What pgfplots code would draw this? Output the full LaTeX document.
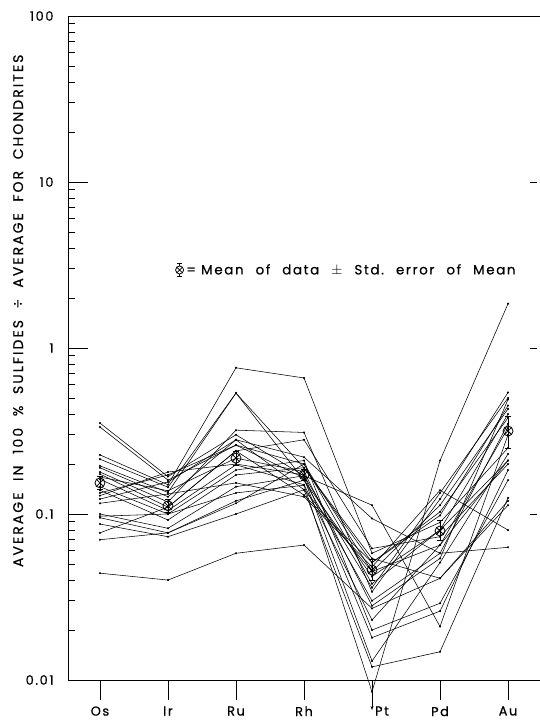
\documentclass[border=0pt]{standalone}
\usepackage{pgfplots}
\pgfplotsset{compat=1.18}
\usepackage{fontspec}
\setmainfont{Poppins}[LetterSpace=12, FakeBold=0.6]
\newfontfamily\labfont{Poppins}[LetterSpace=15, FakeBold=0.6]
\usetikzlibrary{calc,arrows.meta}
\pgfplotsset{samp/.style={black, solid, line width=0.55pt, mark=*, mark size=0.75pt, mark options={solid}}}
\newcommand{\gap}{\hspace{12bp}}
\begin{document}
\begin{tikzpicture}
\begin{axis}[
  name=ax,
  width=472bp, height=664bp, scale only axis,
  xmin=-0.47, xmax=6.47, ymin=0.01, ymax=100, ymode=log,
  clip=false,
  axis x line=box, axis y line=left,
  axis line style={-, line width=0.9pt},
  xtick={0,1,2,3,4,5,6},
  xticklabels={Os,Ir,Ru,Rh,\hspace*{20bp}Pt,Pd,Au},
  xtick pos=left,
  xtick align=outside, ytick align=inside,
  major tick length=20bp, minor tick length=7bp,
  tick style={black, line width=0.8pt},
  ytick={0.01,0.1,1,10,100},
  yticklabels={0.01,0.1,1,10,100},
  /pgf/number format/assume math mode=true,
  xticklabel style={font=\fontsize{13}{15}\selectfont, yshift=-3bp},
  yticklabel style={font=\fontsize{13}{15}\selectfont, xshift=-11bp},
  ylabel={\labfont AVERAGE\ \ IN\ \ 100\ \ \%\ \ SULFIDES\ \ ÷\ \ AVERAGE\ \ FOR\ \ CHONDRITES},
  ylabel style={font=\fontsize{14}{16}\selectfont, at={(axis description cs:-0.106,0.556)}, anchor=center},
]
% individual sulfide samples (Os, Ir, Ru, Rh, Pt, Pd, Au)
\addplot[samp] coordinates {(0,0.353) (1,0.168) (2,0.30) (3,0.17) (4,0.036) (5,0.134) (6,0.50)};
\addplot[samp] coordinates {(0,0.334) (1,0.160) (2,0.26) (3,0.20) (4,0.045) (5,0.113) (6,0.43)};
\addplot[samp] coordinates {(0,0.227) (1,0.150) (2,0.76) (3,0.66) (4,0.058) (5,0.089) (6,0.25)};
\addplot[samp] coordinates {(0,0.214) (1,0.145) (2,0.535) (3,0.19) (4,0.051) (5,0.103) (6,0.38)};
\addplot[samp] coordinates {(0,0.195) (1,0.135) (2,0.535) (3,0.16) (4,0.042) (5,0.080) (6,0.21)};
\addplot[samp] coordinates {(0,0.190) (1,0.127) (2,0.28) (3,0.22) (4,0.094) (5,0.058) (6,0.063)};
\addplot[samp] coordinates {(0,0.179) (1,0.118) (2,0.32) (3,0.31) (4,0.034) (5,0.123) (6,0.54)};
\addplot[samp] coordinates {(0,0.174) (1,0.110) (2,0.24) (3,0.28) (4,0.062) (5,0.073) (6,0.20)};
\addplot[samp] coordinates {(0,0.167) (1,0.138) (2,0.217) (3,0.18) (4,0.028) (5,0.054) (6,0.49)};
\addplot[samp] coordinates {(0,0.162) (1,0.105) (2,0.198) (3,0.15) (4,0.023) (5,0.065) (6,0.33)};
\addplot[samp] coordinates {(0,0.146) (1,0.100) (2,0.184) (3,0.21) (4,0.020) (5,0.029) (6,0.16)};
\addplot[samp] coordinates {(0,0.139) (1,0.092) (2,0.172) (3,0.19) (4,0.054) (5,0.041) (6,0.113)};
\addplot[samp] coordinates {(0,0.134) (1,0.172) (2,0.26) (3,0.165) (4,0.013) (5,0.051) (6,0.23)};
\addplot[samp] coordinates {(0,0.129) (1,0.179) (2,0.20) (3,0.172) (4,0.018) (5,0.026) (6,0.184)};
\addplot[samp] coordinates {(0,0.123) (1,0.156) (2,0.28) (3,0.14) (4,0.012) (5,0.0148) (6,0.125)};
\addplot[samp] coordinates {(0,0.116) (1,0.132) (2,0.154) (3,0.127) (4,0.048) (5,0.139) (6,0.080)};
\addplot[samp] coordinates {(0,0.100) (1,0.082) (2,0.146) (3,0.17) (4,0.113) (5,0.021) (6,0.30)};
\addplot[samp] coordinates {(0,0.097) (1,0.100) (2,0.134) (3,0.149) (4,0.0085) (5,0.210) (6,1.85)};
\addplot[samp] coordinates {(0,0.095) (1,0.077) (2,0.116) (3,0.20) (4,0.038) (5,0.080) (6,0.40)};
\addplot[samp] coordinates {(0,0.087) (1,0.073) (2,0.100) (3,0.14) (4,0.045) (5,0.065) (6,0.21)};
\addplot[samp] coordinates {(0,0.077) (1,0.110) (2,0.24) (3,0.13) (4,0.051) (5,0.098) (6,0.45)};
\addplot[samp] coordinates {(0,0.070) (1,0.077) (2,0.12) (3,0.16) (4,0.030) (5,0.058) (6,0.35)};
\addplot[samp] coordinates {(0,0.044) (1,0.040) (2,0.058) (3,0.065) (4,0.027) (5,0.041) (6,0.12)};
% arrow below Pt
\addplot[black, -{Stealth[length=4bp]}, mark=none, line width=0.6pt] coordinates {(4,0.0095) (4,0.0066)};
% means with standard error
\addplot[black, only marks, mark=otimes, mark size=5bp, line width=0.8pt, mark options={fill=white},
  error bars/.cd, y dir=both, y explicit, error bar style={line width=0.7pt}, error mark options={rotate=90, mark size=3bp, line width=0.7pt}]
  table[x=x, y=y, y error plus=ep, y error minus=em] {
x y ep em
0 0.154 0.014 0.013
1 0.112 0.010 0.009
2 0.217 0.022 0.020
3 0.172 0.014 0.013
4 0.046 0.007 0.006
5 0.079 0.012 0.010
6 0.316 0.070 0.066
};
\end{axis}
% legend text
\node[anchor=west, font=\fontsize{13.5}{15}\selectfont, inner sep=0pt] at ($(ax.south west)+(107bp,410bp)$) {\tikz[baseline=-0.6ex]{\draw[line width=0.7pt] (0,-6.5bp)--(0,6.5bp) (-2.5bp,-6.5bp)--(2.5bp,-6.5bp) (-2.5bp,6.5bp)--(2.5bp,6.5bp); \draw[line width=0.8pt, fill=white] (0,0) circle (4bp); \draw[line width=0.8pt] (-2.8bp,-2.8bp)--(2.8bp,2.8bp) (-2.8bp,2.8bp)--(2.8bp,-2.8bp);}\,= Mean\gap of\gap data\gap $\pm$\gap Std.\gap error\gap of\gap Mean};
% right-hand tick marks
\foreach \yy in {166,332,498} {\draw[line width=0.8pt] ($(ax.south east)+(-10bp,\yy bp)$) -- ++(7bp,0);}
\pgfresetboundingbox
\path ($(ax.south west)+(-68bp,-44bp)$) rectangle ($(ax.north east)+(0,16bp)$);
\end{tikzpicture}
\end{document}
